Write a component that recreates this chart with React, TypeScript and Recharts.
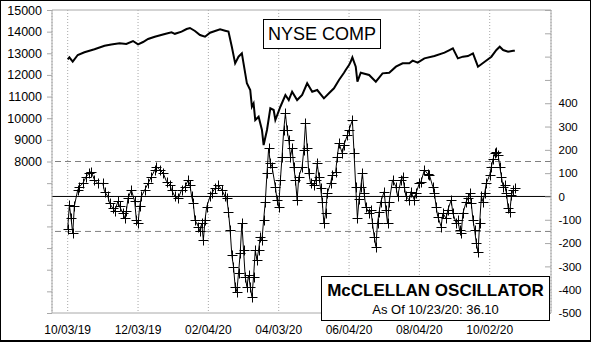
import React from 'react';
import {
  ComposedChart,
  Line,
  XAxis,
  YAxis,
  CartesianGrid,
  ReferenceLine,
} from 'recharts';

// trading-day index (0 = 10/03/19) for each reading
const nyseDays = [
  0, 1, 3, 6, 10, 16, 22, 26, 31, 35,
  39, 42, 45, 48, 52, 58, 62, 64, 68, 71,
  73, 76, 79, 82, 85, 88, 91, 94, 96, 98,
  100, 102, 104, 105, 107, 109, 110, 111, 112, 114,
  116, 117, 119, 121, 123, 124, 127, 130, 132, 134,
  137, 140, 143, 146, 149, 153, 156, 159, 162, 165,
  166, 168, 169, 170, 172, 173, 175, 180, 184, 188,
  192, 196, 200, 204, 206, 209, 213, 219, 225, 228,
  230, 233, 236, 239, 242, 245, 249, 253, 256, 258,
  260, 263, 266, 267,
];
const nyseValues = [
  12722, 12814, 12611, 12920, 13045, 13184, 13350, 13410, 13460, 13430,
  13567, 13415, 13520, 13660, 13766, 13890, 13968, 13900, 14000, 14122,
  14170, 14030, 13845, 13766, 13951, 14030, 14107, 14045, 14000, 13304,
  12536, 12843, 13000, 12536, 11613, 11303, 10530, 10684, 9917, 10070,
  9455, 8761, 9455, 10457, 10379, 9917, 10530, 11072, 10840, 11225,
  10840, 11072, 11613, 11225, 11303, 10917, 11150, 11383, 11765, 12100,
  12227, 12458, 12611, 12814, 12381, 11687, 12103, 11996, 11687, 12073,
  12103, 12381, 12536, 12536, 12659, 12567, 12767, 12874, 13027, 13151,
  13228, 12767, 12845, 12874, 12999, 12381, 12611, 12843, 13151, 13304,
  13151, 13073, 13120, 13120,
];

const oscDays = [
  0, 1, 2, 3, 4, 6, 7, 9, 11, 13,
  14, 16, 18, 21, 22, 24, 25, 27, 28, 30,
  31, 33, 34, 35, 36, 38, 40, 41, 42, 43,
  44, 46, 48, 50, 52, 53, 55, 57, 59, 61,
  62, 64, 66, 68, 70, 72, 73, 74, 75, 76,
  78, 79, 80, 81, 82, 83, 85, 86, 88, 90,
  92, 94, 95, 96, 97, 98, 99, 100, 101, 102,
  103, 104, 105, 106, 107, 108, 109, 110, 111, 112,
  113, 114, 115, 116, 117, 118, 119, 120, 121, 122,
  124, 125, 126, 127, 128, 129, 130, 131, 132, 133,
  134, 135, 136, 137, 138, 140, 141, 142, 143, 144,
  145, 147, 148, 149, 150, 151, 152, 153, 154, 155,
  157, 158, 160, 161, 162, 164, 165, 167, 168, 170,
  171, 172, 173, 174, 175, 176, 177, 178, 180, 181,
  182, 183, 184, 185, 186, 187, 189, 190, 191, 192,
  194, 196, 197, 199, 200, 201, 202, 204, 205, 207,
  208, 210, 211, 213, 215, 216, 218, 219, 220, 221,
  223, 224, 226, 227, 229, 230, 232, 233, 234, 235,
  236, 238, 239, 240, 241, 242, 243, 244, 245, 246,
  247, 248, 249, 250, 252, 253, 254, 255, 256, 257,
  258, 259, 260, 261, 262, 263, 264, 265, 266, 267,
];
const oscValues = [
  -139, -36, -94, -158, -40, 28, 42, 56, 85, 100,
  107, 71, 56, 56, 21, 0, -29, -51, -64, -21,
  -43, -72, -94, -64, -8, 28, -21, -101, -115, -43,
  0, 28, 56, 85, 114, 128, 114, 100, 64, 50,
  28, 0, -8, 28, 42, 71, 50, 0, -29, -101,
  -129, -150, -115, -187, -101, -44, 0, 14, 35, 49,
  28, 0, -8, -65, -144, -251, -301, -387, -408, -330,
  -244, -115, -230, -344, -387, -337, -387, -430, -344, -230,
  -272, -230, -172, -187, -101, -22, 100, 207, 142, 128,
  42, -15, -44, 71, 171, 285, 357, 285, 242, 171,
  207, 128, 71, -15, 85, 128, 200, 314, 207, 100,
  57, 49, 71, 142, 85, 35, -22, -115, -72, 14,
  57, 92, 107, 171, 228, 185, 221, 264, 285, 328,
  185, 40, -94, -10, 40, 100, 14, -44, -72, -58,
  -115, -172, -215, -115, -65, -22, 21, -58, -115, -22,
  71, 42, 0, 71, 85, 42, 0, -15, 21, -15,
  14, 57, 64, 114, 97, 92, 42, 14, -44, -87,
  -129, -72, -94, -58, -15, -72, -115, -101, -144, -158,
  -72, -22, -8, 14, -29, -101, -144, -201, -240, -115,
  0, -22, 14, 57, 92, 128, 160, 185, 192, 180,
  128, 85, 42, 49, 14, -50, -65, 5, 28, 36.1,
];

const dateTickDays = [0, 42, 84, 126, 168, 210, 252];
const dateTickLabels = ['10/03/19', '12/03/19', '02/04/20', '04/03/20', '06/04/20', '08/04/20', '10/02/20'];
const nyseTicks = [1000, 2000, 3000, 4000, 5000, 6000, 7000, 8000, 9000, 10000, 11000, 12000, 13000, 14000, 15000];
const oscTicks = [-500, -400, -300, -200, -100, 0, 100, 200, 300, 400, 500, 600, 700, 800];

const AXIS = '#a8a8a8';
const FONT = '"Liberation Sans", Arial, sans-serif';

// merge both series on the day index
const rowMap = new Map<number, { day: number; nyse: number | null; osc: number | null }>();
nyseDays.forEach((d, i) => {
  rowMap.set(d, { day: d, nyse: nyseValues[i], osc: null });
});
oscDays.forEach((d, i) => {
  const r = rowMap.get(d);
  if (r) r.osc = oscValues[i];
  else rowMap.set(d, { day: d, nyse: null, osc: oscValues[i] });
});
const rows = Array.from(rowMap.values()).sort((a, b) => a.day - b.day);

const LeftTick = (props: any) => {
  const { x, y, payload } = props;
  return (
    <g>
      <line x1={x - 5} x2={x} y1={y + 0.5} y2={y + 0.5} stroke={AXIS} />
      {payload.value >= 8000 && (
        <text x={x - 10} y={y} dy="0.36em" textAnchor="end" fontSize={12.5} fill="#000">
          {payload.value}
        </text>
      )}
    </g>
  );
};

const RightTick = (props: any) => {
  const { x, y, payload } = props;
  return (
    <g>
      <line x1={x - 6} x2={x} y1={y + 0.5} y2={y + 0.5} stroke={AXIS} />
      {payload.value <= 400 && (
        <text x={x + 7.5} y={y} dy="0.36em" textAnchor="start" fontSize={11.5} fill="#000">
          {payload.value}
        </text>
      )}
    </g>
  );
};

const DateTick = (props: any) => {
  const { x, y, payload } = props;
  const i = dateTickDays.indexOf(payload.value);
  return (
    <text x={x} y={y + 21} textAnchor="middle" fontSize={12} fill="#000">
      {dateTickLabels[i]}
    </text>
  );
};

const Cross = (props: any) => {
  const { cx, cy, index } = props;
  if (cx == null || cy == null || props.value == null) return <g key={`c-${index}`} />;
  const px = Math.round(cx) + 0.5;
  const py = Math.round(cy) + 0.5;
  return (
    <path
      key={`c-${index}`}
      d={`M${px - 5},${py}H${px + 5}M${px},${py - 5}V${py + 5}`}
      stroke="#000"
      strokeWidth={1}
      fill="none"
    />
  );
};

export default function App() {
  return (
    <div
      style={{
        position: 'absolute',
        left: 0,
        top: 0,
        width: 591,
        height: 342,
        background: '#fff',
        fontFamily: FONT,
        overflow: 'hidden',
      }}
    >
      <ComposedChart width={591} height={342} data={rows} margin={{ top: 10, right: 0, bottom: 0, left: 0 }}>
        <CartesianGrid horizontal={false} stroke={AXIS} strokeDasharray="1 2" yAxisId="nyse" />
        <XAxis
          dataKey="day"
          type="number"
          domain={[-9.375, 288.6]}
          allowDataOverflow
          ticks={dateTickDays}
          interval={0}
          height={29}
          tickSize={0}
          tickMargin={0}
          tickLine={false}
          axisLine={{ stroke: AXIS }}
          tick={DateTick}
        />
        <YAxis
          yAxisId="nyse"
          orientation="left"
          width={52}
          domain={[1000, 15000]}
          ticks={nyseTicks}
          interval={0}
          tickSize={0}
          tickMargin={0}
          tickLine={false}
          axisLine={{ stroke: AXIS }}
          tick={LeftTick}
        />
        <YAxis
          yAxisId="osc"
          orientation="right"
          width={40}
          domain={[-500, 800]}
          ticks={oscTicks}
          interval={0}
          tickSize={0}
          tickMargin={0}
          tickLine={false}
          axisLine={{ stroke: AXIS }}
          tick={RightTick}
        />
        <ReferenceLine yAxisId="nyse" y={15000} stroke={AXIS} />
        <ReferenceLine yAxisId="osc" y={150} stroke="#808080" strokeDasharray="6 4" />
        <ReferenceLine yAxisId="osc" y={-150} stroke="#808080" strokeDasharray="6 4" />
        <ReferenceLine yAxisId="osc" y={0} stroke="#000" />
        <Line
          yAxisId="nyse"
          dataKey="nyse"
          type="linear"
          stroke="#000"
          strokeWidth={2}
          dot={false}
          connectNulls
          isAnimationActive={false}
        />
        <Line
          yAxisId="osc"
          dataKey="osc"
          type="linear"
          stroke="#000"
          strokeWidth={1}
          dot={Cross}
          connectNulls
          isAnimationActive={false}
        />
      </ComposedChart>

      <div
        style={{
          position: 'absolute',
          left: 263,
          top: 19,
          width: 118,
          height: 30,
          boxSizing: 'border-box',
          border: '1px solid #000',
          background: '#fff',
          display: 'flex',
          alignItems: 'center',
          justifyContent: 'center',
          fontSize: 18,
          color: '#000',
        }}
      >
        NYSE COMP
      </div>

      <div
        style={{
          position: 'absolute',
          left: 321,
          top: 276,
          width: 229,
          height: 45,
          boxSizing: 'border-box',
          border: '1px solid #000',
          background: '#fff',
        }}
      />
      <div
        style={{
          position: 'absolute',
          left: 321,
          top: 281.5,
          width: 229,
          textAlign: 'center',
          fontSize: 17,
          lineHeight: '17px',
          fontWeight: 'bold',
          color: '#000',
          whiteSpace: 'nowrap',
        }}
      >
        McCLELLAN OSCILLATOR
      </div>
      <div
        style={{
          position: 'absolute',
          left: 321,
          top: 303,
          width: 229,
          textAlign: 'center',
          fontSize: 13,
          lineHeight: '13px',
          color: '#000',
          whiteSpace: 'nowrap',
        }}
      >
        As Of 10/23/20: 36.10
      </div>

      <div
        style={{
          position: 'absolute',
          left: 0,
          top: 0,
          width: 591,
          height: 342,
          boxSizing: 'border-box',
          borderTop: '1px solid #000',
          borderLeft: '1px solid #000',
          borderRight: '1px solid #000',
          borderBottom: '2px solid #000',
          pointerEvents: 'none',
        }}
      />
    </div>
  );
}
